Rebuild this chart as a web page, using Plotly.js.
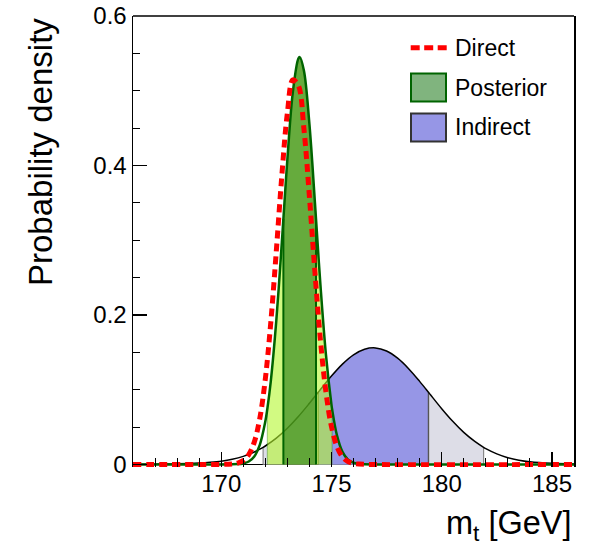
<!DOCTYPE html>
<html>
<head>
<meta charset="utf-8">
<script src="https://cdn.plot.ly/plotly-3.0.1.min.js"></script>
<style>html,body{margin:0;padding:0;background:#fff;}#chart{width:591px;height:548px;}</style>
</head>
<body>
<div id="chart"></div>
<script>
// ---- data ----
const directMass = [166, 170.5, 170.75, 171, 171.25, 171.5, 171.75, 172, 172.25, 172.5, 172.75, 173, 173.25, 173.5, 173.75, 174, 174.25, 174.5, 174.75, 175, 175.25, 175.5, 175.75, 176, 176.25, 186];
const directDensity = [0, 0.0006, 0.0018, 0.0051, 0.0130, 0.0298, 0.0614, 0.1140, 0.1902, 0.2857, 0.3863, 0.4699, 0.5145, 0.5069, 0.4495, 0.3588, 0.2577, 0.1665, 0.0969, 0.0507, 0.0239, 0.0101, 0.0039, 0.0013, 0.0004, 0];

const posteriorMass = [166, 170.75, 171, 171.25, 171.5, 171.75, 172, 172.09, 172.25, 172.5, 172.75, 172.82, 173, 173.25, 173.5, 173.56, 173.75, 174, 174.25, 174.3, 174.5, 174.75, 175, 175.03, 175.25, 175.5, 175.75, 176, 176.25, 176.5, 186];
const posteriorDensity = [0, 0.0004, 0.0013, 0.0039, 0.0107, 0.0262, 0.0573, 0.0738, 0.1114, 0.1927, 0.2970, 0.3283, 0.4077, 0.4986, 0.5432, 0.5450, 0.5271, 0.4556, 0.3508, 0.3283, 0.2406, 0.1469, 0.0800, 0.0738, 0.0388, 0.0167, 0.0064, 0.0022, 0.0007, 0.0002, 0];

const indirectMass = [166, 167, 168, 169, 169.5, 170, 170.5, 171, 171.5, 171.9, 172, 172.5, 173, 173.5, 174, 174.4, 174.5, 175, 175.5, 176, 176.5, 177, 177.5, 178, 178.5, 179, 179.4, 179.5, 180, 180.5, 181, 181.5, 181.9, 182, 182.5, 183, 183.5, 184, 185, 186];
const indirectDensity = [0.0001, 0.0003, 0.0007, 0.0018, 0.0028, 0.0043, 0.0068, 0.0107, 0.0166, 0.0228, 0.0246, 0.0352, 0.0484, 0.0641, 0.0817, 0.0965, 0.1002, 0.1182, 0.1342, 0.1466, 0.1541, 0.1559, 0.1517, 0.1421, 0.1281, 0.1111, 0.0965, 0.0928, 0.0745, 0.0576, 0.0428, 0.0307, 0.0228, 0.0211, 0.0140, 0.0089, 0.0055, 0.0034, 0.0014, 0.0005];

// credible intervals (GeV)
const posterior1Sigma = [172.82, 174.30];
const posterior2Sigma = [172.09, 175.03];
const indirect1Sigma = [174.4, 179.4];
const indirect2Sigma = [171.9, 181.9];

const xTickVals = [170, 175, 180, 185];
const yTickVals = [0, 0.2, 0.4, 0.6];
const yTickText = ['0', '0.2', '0.4', '0.6'];
const legendLabels = ['Direct', 'Posterior', 'Indirect'];
const xTitle = 'm<sub>t</sub> [GeV]';
const yTitle = 'Probability density';

// ---- helpers ----
function bandPolygon(xs, ys, range) {
  const bx = [range[0]], by = [0];
  for (let i = 0; i < xs.length; i++) {
    if (xs[i] >= range[0] - 1e-9 && xs[i] <= range[1] + 1e-9) { bx.push(xs[i]); by.push(ys[i]); }
  }
  bx.push(range[1]); by.push(0);
  return {x: bx, y: by};
}
function valueAt(xs, ys, v) {
  for (let i = 0; i < xs.length; i++) if (Math.abs(xs[i] - v) < 1e-9) return ys[i];
  return 0;
}
function edgeLines(xs, ys, vals) {
  const ex = [], ey = [];
  vals.forEach(v => { ex.push(v, v, null); ey.push(0, valueAt(xs, ys, v), null); });
  return {x: ex, y: ey};
}

const ind2 = bandPolygon(indirectMass, indirectDensity, indirect2Sigma);
const ind1 = bandPolygon(indirectMass, indirectDensity, indirect1Sigma);
const post2 = bandPolygon(posteriorMass, posteriorDensity, posterior2Sigma);
const post1 = bandPolygon(posteriorMass, posteriorDensity, posterior1Sigma);
const indEdgeDark = edgeLines(indirectMass, indirectDensity, [indirect1Sigma[0], indirect1Sigma[1]]);
const indEdgeLight = edgeLines(indirectMass, indirectDensity, [indirect2Sigma[0], indirect2Sigma[1]]);
const postEdge1 = edgeLines(posteriorMass, posteriorDensity, posterior1Sigma);
const postEdge2 = edgeLines(posteriorMass, posteriorDensity, posterior2Sigma);

const traces = [
  {x: ind2.x, y: ind2.y, type: 'scatter', mode: 'lines', fill: 'toself', fillcolor: 'rgb(221,221,231)', line: {width: 0}, hoverinfo: 'skip', showlegend: false},
  {x: ind1.x, y: ind1.y, type: 'scatter', mode: 'lines', fill: 'toself', fillcolor: 'rgb(150,150,230)', line: {width: 0}, hoverinfo: 'skip', showlegend: false},
  {x: indEdgeLight.x, y: indEdgeLight.y, type: 'scatter', mode: 'lines', line: {color: '#8a8a8a', width: 1.2}, hoverinfo: 'skip', showlegend: false},
  {x: indEdgeDark.x, y: indEdgeDark.y, type: 'scatter', mode: 'lines', line: {color: '#555', width: 1.4}, hoverinfo: 'skip', showlegend: false},
  {x: indirectMass, y: indirectDensity, type: 'scatter', mode: 'lines', line: {color: 'black', width: 1.5, shape: 'spline'}, name: legendLabels[2], showlegend: false},
  {x: post2.x, y: post2.y, type: 'scatter', mode: 'lines', fill: 'toself', fillcolor: 'rgba(180,247,47,0.6)', line: {width: 0}, hoverinfo: 'skip', showlegend: false},
  {x: post1.x, y: post1.y, type: 'scatter', mode: 'lines', fill: 'toself', fillcolor: 'rgba(40,125,20,0.63)', line: {width: 0}, hoverinfo: 'skip', showlegend: false},
  {x: postEdge2.x, y: postEdge2.y, type: 'scatter', mode: 'lines', line: {color: 'rgba(0,100,0,0.35)', width: 1}, hoverinfo: 'skip', showlegend: false},
  {x: postEdge1.x, y: postEdge1.y, type: 'scatter', mode: 'lines', line: {color: 'rgb(0,100,0)', width: 2}, hoverinfo: 'skip', showlegend: false},
  {x: posteriorMass, y: posteriorDensity, type: 'scatter', mode: 'lines', line: {color: 'rgb(0,100,0)', width: 2.5, shape: 'spline'}, name: legendLabels[1], showlegend: false},
  {x: directMass, y: directDensity, type: 'scatter', mode: 'lines', line: {color: 'rgb(255,0,0)', width: 5, dash: '8px,5px', shape: 'spline'}, name: legendLabels[0], showlegend: false}
];

const FONT = 'Liberation Sans, Arial, Helvetica, sans-serif';
// paper coordinates helpers (plot area: x 133..574 px, y 16..467 px)
const PX = p => (p - 133) / 441;
const PY = p => (467 - p) / 451;

const layout = {
  width: 591, height: 548,
  margin: {l: 133, r: 17, t: 16, b: 81, autoexpand: false},
  paper_bgcolor: 'white', plot_bgcolor: 'white',
  font: {family: FONT, color: 'black', size: 24},
  showlegend: false,
  xaxis: {
    range: [166, 186], tickvals: xTickVals, ticktext: xTickVals.map(String),
    ticks: 'inside', ticklen: 15, tickwidth: 1.2, tickcolor: 'black',
    minor: {dtick: 1, tick0: 166, ticks: 'inside', ticklen: 9, tickwidth: 1, tickcolor: 'black', showgrid: false},
    showline: false, showgrid: false, zeroline: false,
    tickfont: {family: FONT, size: 24, color: 'black'}
  },
  yaxis: {
    range: [-0.0035, 0.6], tickvals: yTickVals, ticktext: yTickText,
    ticks: 'inside', ticklen: 14, tickwidth: 1.2, tickcolor: 'black',
    minor: {dtick: 0.05, tick0: 0, ticks: 'inside', ticklen: 7, tickwidth: 1, tickcolor: 'black', showgrid: false},
    showline: true, linecolor: 'black', linewidth: 1.5, mirror: true,
    showgrid: false, zeroline: true, zerolinecolor: 'black', zerolinewidth: 1.5,
    tickfont: {family: FONT, size: 24, color: 'black'}
  },
  shapes: [
    {type: 'line', xref: 'paper', yref: 'paper', x0: 0, x1: 1, y0: 1, y1: 1, line: {color: 'black', width: 1.5}},
    {type: 'line', xref: 'paper', yref: 'paper', x0: PX(410.7), x1: PX(446.7), y0: PY(47.7), y1: PY(47.7), line: {color: 'rgb(255,0,0)', width: 5, dash: '9px,4.5px'}},
    {type: 'rect', xref: 'paper', yref: 'paper', x0: PX(411), x1: PX(446), y0: PY(101.5), y1: PY(73.5), fillcolor: 'rgb(128,180,126)', line: {color: 'rgb(0,100,0)', width: 2}},
    {type: 'rect', xref: 'paper', yref: 'paper', x0: PX(411), x1: PX(446), y0: PY(141.5), y1: PY(113.5), fillcolor: 'rgb(150,150,230)', line: {color: '#333', width: 2}}
  ],
  annotations: [
    {text: legendLabels[0], xref: 'paper', yref: 'paper', x: PX(453), y: PY(48), xanchor: 'left', yanchor: 'middle', showarrow: false, font: {family: FONT, size: 23, color: 'black'}},
    {text: legendLabels[1], xref: 'paper', yref: 'paper', x: PX(453), y: PY(88), xanchor: 'left', yanchor: 'middle', showarrow: false, font: {family: FONT, size: 23, color: 'black'}},
    {text: legendLabels[2], xref: 'paper', yref: 'paper', x: PX(453), y: PY(127), xanchor: 'left', yanchor: 'middle', showarrow: false, font: {family: FONT, size: 23, color: 'black'}},
    {text: xTitle, xref: 'paper', yref: 'paper', x: PX(574), y: PY(525), xanchor: 'right', yanchor: 'middle', showarrow: false, font: {family: FONT, size: 32.5, color: 'black'}},
    {text: yTitle, xref: 'paper', yref: 'paper', x: PX(41), y: PY(152), xanchor: 'center', yanchor: 'middle', textangle: -90, showarrow: false, font: {family: FONT, size: 33, color: 'black'}}
  ]
};

Plotly.newPlot('chart', traces, layout, {staticPlot: true, displayModeBar: false});
</script>
</body>
</html>
